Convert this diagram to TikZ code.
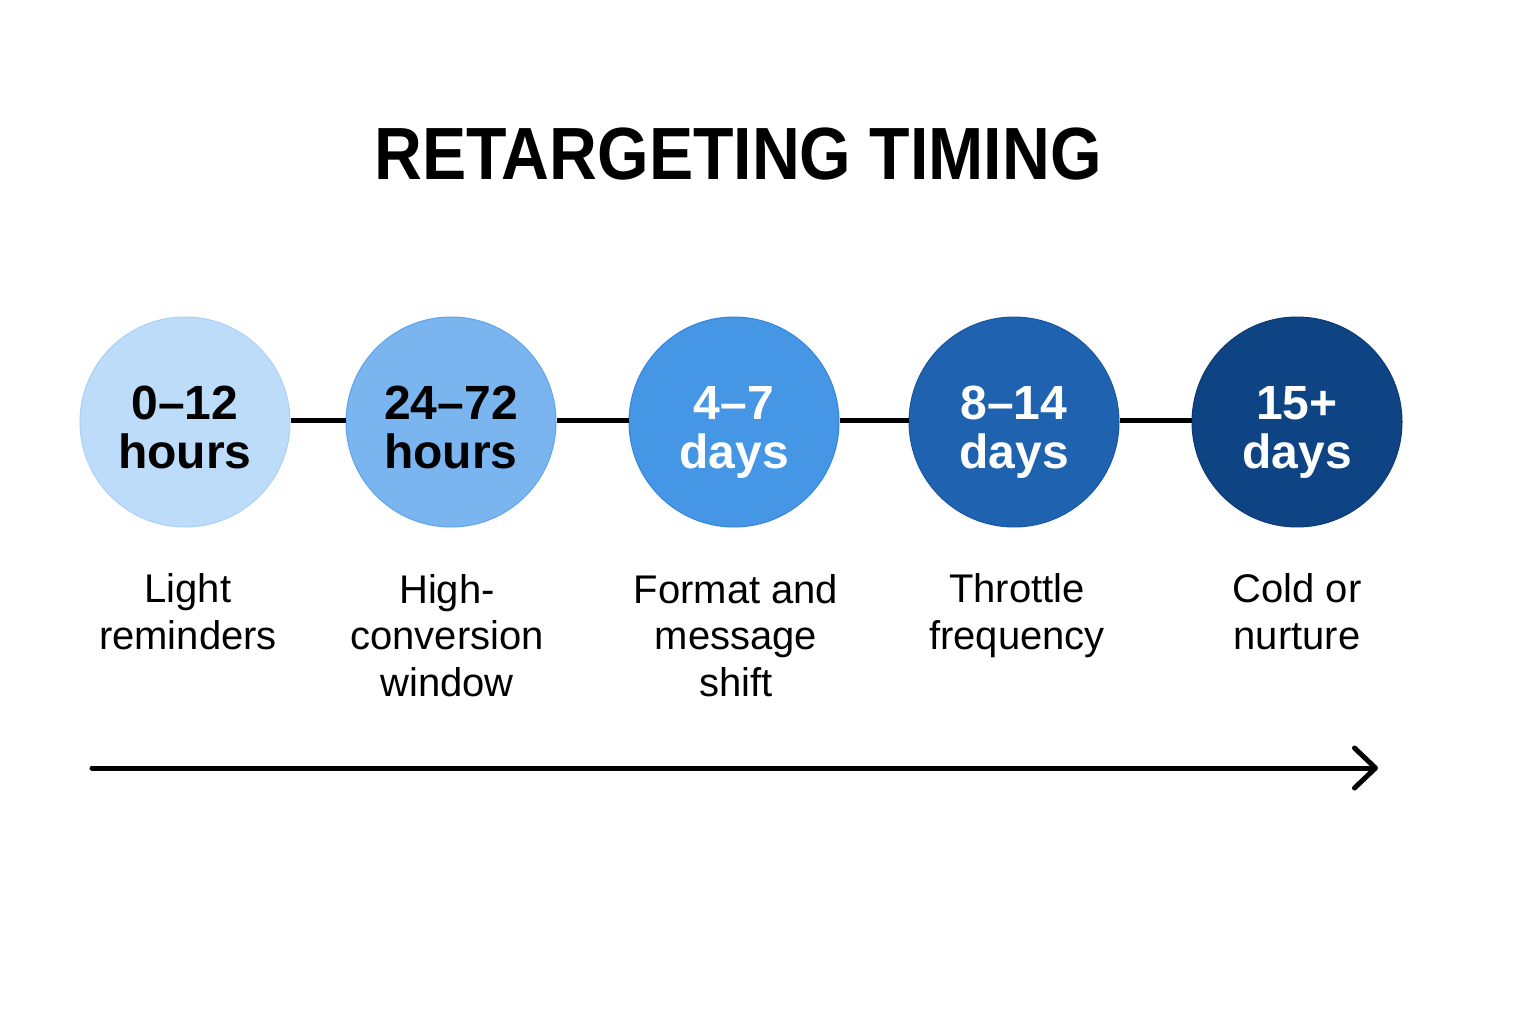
\documentclass[tikz,border=0pt]{standalone}
\usepackage{fontspec}
\setmainfont{Liberation Sans}
\usetikzlibrary{arrows.meta}
\definecolor{cA}{HTML}{BDDCFA}
\definecolor{cAb}{HTML}{A9D0F7}
\definecolor{cB}{HTML}{7AB5F0}
\definecolor{cBb}{HTML}{5FA3EC}
\definecolor{cC}{HTML}{4596E5}
\definecolor{cCb}{HTML}{3585DA}
\definecolor{cD}{HTML}{1F62B0}
\definecolor{cDb}{HTML}{1A579F}
\definecolor{cE}{HTML}{0E4384}
\definecolor{cEb}{HTML}{0B3A74}
\tikzset{
  stage/.style={circle, minimum size=210pt, inner sep=0pt, line width=1pt},
  num/.style={anchor=base, align=center, inner sep=0pt, font=\fontsize{48}{49}\selectfont\bfseries},
  lbl/.style={anchor=base, align=center, inner sep=0pt, font=\fontsize{40}{46.5}\selectfont},
  link/.style={line width=5pt, black},
}
\begin{document}
\begin{tikzpicture}[x=1pt, y=-1pt]
\useasboundingbox[fill=white] (0,0) rectangle (1536,1024);
\node[anchor=base, inner sep=0pt, font=\fontsize{74}{80}\selectfont\bfseries] (title) at (738,180) {\scalebox{0.895}[1]{RETARGETING TIMING}};

\node[stage, fill=cA, draw=cAb] (s1) at (185,422) {};
\node[stage, fill=cB, draw=cBb] (s2) at (451,422) {};
\node[stage, fill=cC, draw=cCb] (s3) at (734,422) {};
\node[stage, fill=cD, draw=cDb] (s4) at (1014,422) {};
\node[stage, fill=cE, draw=cEb] (s5) at (1297,422) {};

\draw[link] (s1.east |- 0,420) -- (s2.west |- 0,420);
\draw[link] (s2.east |- 0,420) -- (s3.west |- 0,420);
\draw[link] (s3.east |- 0,420) -- (s4.west |- 0,420);
\draw[link] (s4.east |- 0,420) -- (s5.west |- 0,420);

\node[num, text=black] (n1) at (185,468) {0–12\\hours};
\node[num, text=black] (n2) at (451,468) {24–72\\hours};
\node[num, text=white] (n3) at (734,468) {4–7\\days};
\node[num, text=white] (n4) at (1014,468) {8–14\\days};
\node[num, text=white] (n5) at (1297,468) {15+\\days};

\node[lbl] (l1) at (188,649) {Light\\reminders};
\node[lbl] (l2) at (447,696) {High-\\conversion\\window};
\node[lbl] (l3) at (736,696) {Format and\\message\\shift};
\node[lbl] (l4) at (1017,649) {Throttle\\frequency};
\node[lbl] (l5) at (1297,649) {Cold or\\nurture};

\coordinate (a0) at (92,768);
\coordinate (a1) at (1378,768);
\draw[line width=5pt, line cap=round, -{Straight Barb[length=21pt, width=40pt, line cap=round, line join=round]}] (a0) -- (a1);
\end{tikzpicture}
\end{document}
